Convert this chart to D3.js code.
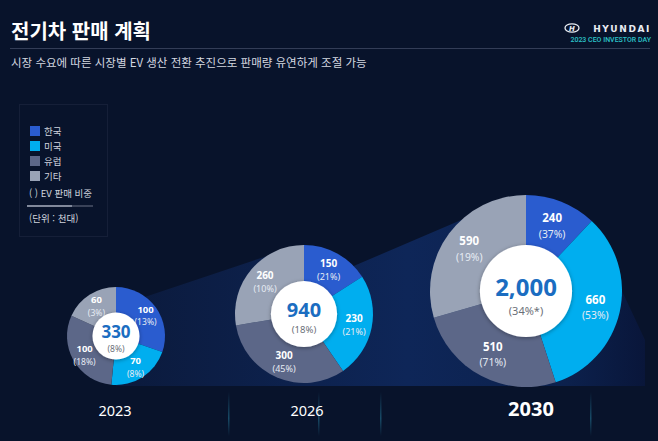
<!DOCTYPE html>
<html lang="ko">
<head>
<meta charset="UTF-8">
<title>전기차 판매 계획</title>
<style>
    body { margin: 0; background: #08122a; }
    svg { display: block; }
    .kr { font-family: "Noto Sans CJK KR", "Noto Sans", sans-serif; }
    .num { font-family: "Noto Sans", "DejaVu Sans", sans-serif; }
</style>
</head>
<body>
<div id="chart"></div>
<script src="https://d3js.org/d3.v7.min.js"></script>
<script>
"use strict";

// data
var regions = ["한국", "미국", "유럽", "기타"];
var years = ["2023", "2026", "2030"];
var sales2023 = [100, 70, 100, 60];
var sales2026 = [150, 230, 300, 260];
var sales2030 = [240, 660, 510, 590];
var share2023 = ["13%", "8%", "18%", "3%"];
var share2026 = ["21%", "21%", "45%", "10%"];
var share2030 = ["37%", "53%", "71%", "19%"];
var totals = ["330", "940", "2,000"];
var totalShare = ["8%", "18%", "34%*"];

var sales = [sales2023, sales2026, sales2030];
var shares = [share2023, share2026, share2030];

// layout (positions / sizes only)
var W = 658, H = 441;
var pies = [
    { cx: 116, cy: 336, r: 49, valSize: 9.5, totSize: 17, subSize: 8.5, yearDx: -1 },
    { cx: 304, cy: 314, r: 69, valSize: 10, totSize: 20, subSize: 9.5, yearDx: 3 },
    { cx: 526, cy: 291, r: 96, valSize: 11.5, totSize: 24, subSize: 11, yearDx: 5 }
];
var colors = d3.scaleOrdinal().domain(regions).range(["#2a5ccf", "#00aeef", "#5c6788", "#99a3b6"]);

var svg = d3.select("#chart").append("svg")
    .attr("width", W).attr("height", H);

var defs = svg.append("defs");
var bandGrad = defs.append("linearGradient").attr("id", "band").attr("x1", 0).attr("x2", 1).attr("y1", 0).attr("y2", 0);
bandGrad.append("stop").attr("offset", "0%").attr("stop-color", "#0b1a3c");
bandGrad.append("stop").attr("offset", "55%").attr("stop-color", "#0e2658");
bandGrad.append("stop").attr("offset", "85%").attr("stop-color", "#0c214d");
bandGrad.append("stop").attr("offset", "100%").attr("stop-color", "#09163a");

var shadow = defs.append("filter").attr("id", "shadow").attr("x", "-30%").attr("y", "-30%").attr("width", "160%").attr("height", "160%");
shadow.append("feDropShadow").attr("dx", 0).attr("dy", 1).attr("stdDeviation", 2).attr("flood-color", "#000").attr("flood-opacity", 0.35);

var streakGrad = defs.append("linearGradient").attr("id", "streak").attr("x1", 0).attr("x2", 0).attr("y1", 0).attr("y2", 1);
streakGrad.append("stop").attr("offset", "0%").attr("stop-color", "#2a8fb0").attr("stop-opacity", 0);
streakGrad.append("stop").attr("offset", "60%").attr("stop-color", "#2a8fb0").attr("stop-opacity", 0.45);
streakGrad.append("stop").attr("offset", "100%").attr("stop-color", "#2a8fb0").attr("stop-opacity", 0);

// background
svg.append("rect").attr("width", W).attr("height", H).attr("fill", "#08132b");

// funnel band connecting the pies
function onCircle(p, deg) {
    var a = deg * Math.PI / 180;
    return [p.cx + p.r * Math.sin(a), p.cy - p.r * Math.cos(a)];
}
var bandPts = [
    onCircle(pies[0], 37),
    onCircle(pies[1], -33),
    onCircle(pies[1], 46),
    onCircle(pies[2], -42),
    onCircle(pies[2], 0),
    onCircle(pies[2], 90),
    [645, 340],
    [645, 386],
    [pies[0].cx, 386]
];
svg.append("path")
    .attr("d", d3.line()(bandPts) + "Z")
    .attr("fill", "url(#band)");

// faint floor streaks
var streaks = [228, 318, 380, 590];
svg.selectAll(".streak").data(streaks).enter().append("rect")
    .attr("x", function (d) { return d; })
    .attr("y", 392).attr("width", 1.5).attr("height", 44)
    .attr("fill", "url(#streak)");

// header
svg.append("text").attr("class", "kr")
    .attr("x", 11).attr("y", 39)
    .attr("font-size", 20).attr("font-weight", 700).attr("fill", "#ffffff")
    .text("전기차 판매 계획");
svg.append("line")
    .attr("x1", 10).attr("x2", 650).attr("y1", 48.5).attr("y2", 48.5)
    .attr("stroke", "#333d57").attr("stroke-width", 1);
svg.append("text").attr("class", "kr")
    .attr("x", 11).attr("y", 67)
    .attr("font-size", 11.5).attr("fill", "#d4d8e0")
    .text("시장 수요에 따른 시장별 EV 생산 전환 추진으로 판매량 유연하게 조절 가능");

// hyundai mark
var logo = svg.append("g").attr("transform", "translate(572,28)");
logo.append("ellipse").attr("rx", 7).attr("ry", 4.2).attr("fill", "none").attr("stroke", "#e8ecf2").attr("stroke-width", 1.3);
logo.append("text").attr("x", 0).attr("y", 2.5).attr("text-anchor", "middle")
    .attr("font-family", "DejaVu Sans").attr("font-size", 7).attr("font-weight", 700)
    .attr("font-style", "italic").attr("fill", "#e8ecf2").text("H");
svg.append("text")
    .attr("x", 651).attr("y", 31.5).attr("text-anchor", "end")
    .attr("font-family", "DejaVu Sans").attr("font-size", 9).attr("font-weight", 700)
    .attr("letter-spacing", 1.6).attr("fill", "#e8ecf2")
    .text("HYUNDAI");
svg.append("text")
    .attr("x", 651).attr("y", 42).attr("text-anchor", "end")
    .attr("font-family", "Roboto, sans-serif").attr("font-size", 7).attr("font-weight", 500)
    .attr("fill", "#2cc3c9")
    .text("2023 CEO INVESTOR DAY");

// legend
var legend = svg.append("g").attr("class", "kr");
legend.append("rect")
    .attr("x", 19.5).attr("y", 104.5).attr("width", 88).attr("height", 132)
    .attr("fill", "none").attr("stroke", "#151f38");
var rows = legend.selectAll(".row").data(regions).enter().append("g")
    .attr("transform", function (d, i) { return "translate(30," + (126 + i * 15) + ")"; });
rows.append("rect").attr("width", 10).attr("height", 10)
    .attr("fill", function (d) { return colors(d); });
rows.append("text").attr("x", 14).attr("y", 9)
    .attr("font-size", 9.5).attr("fill", "#cfd4de")
    .text(function (d) { return d; });
legend.append("text").attr("x", 29).attr("y", 197)
    .attr("font-size", 9.5).attr("fill", "#cfd4de")
    .text("( ) EV 판매 비중");
legend.append("line").attr("x1", 27).attr("x2", 93).attr("y1", 206).attr("y2", 206)
    .attr("stroke", "#4a5368").attr("stroke-width", 1.5);
legend.append("line").attr("x1", 27).attr("x2", 72).attr("y1", 206).attr("y2", 206)
    .attr("stroke", "#9aa2b2").attr("stroke-width", 1.5);
legend.append("text").attr("x", 29).attr("y", 222)
    .attr("font-size", 9.5).attr("fill", "#cfd4de")
    .text("(단위 : 천대)");

// pies
var pie = d3.pie().sort(null).value(function (d) { return d.value; });

years.forEach(function (year, k) {
    var p = pies[k];
    var inner = p.r * 0.48;
    var arc = d3.arc().innerRadius(0).outerRadius(p.r);
    var labelArc = d3.arc().innerRadius(inner).outerRadius(p.r);
    var slices = pie(regions.map(function (name, i) {
        return { name: name, value: sales[k][i], share: shares[k][i] };
    }));

    var g = svg.append("g").attr("transform", "translate(" + p.cx + "," + p.cy + ")");
    g.selectAll("path").data(slices).enter().append("path")
        .attr("d", arc)
        .attr("fill", function (d) { return colors(d.data.name); });

    var lab = g.selectAll(".lab").data(slices).enter().append("g")
        .attr("class", "num")
        .attr("transform", function (d) { return "translate(" + labelArc.centroid(d) + ")"; });
    lab.append("text").attr("text-anchor", "middle").attr("y", -p.valSize * 0.25)
        .attr("font-size", p.valSize).attr("font-weight", 700).attr("fill", "#ffffff")
        .text(function (d) { return d.data.value; });
    lab.append("text").attr("text-anchor", "middle").attr("y", p.valSize * 1.1)
        .attr("font-size", p.valSize * 0.9).attr("fill", "#e6ebf3")
        .text(function (d) { return "(" + d.data.share + ")"; });

    g.append("circle").attr("r", inner).attr("fill", "#ffffff").attr("filter", "url(#shadow)");
    var totBase = p.totSize * 0.36 - 4;
    g.append("text").attr("class", "num").attr("text-anchor", "middle")
        .attr("y", totBase)
        .attr("font-size", p.totSize).attr("font-weight", 700).attr("fill", "#1b6dc1")
        .text(totals[k]);
    g.append("text").attr("class", "num").attr("text-anchor", "middle")
        .attr("y", totBase + p.totSize * 0.3 + p.subSize * 1.08)
        .attr("font-size", p.subSize).attr("fill", "#6b6f78")
        .text("(" + totalShare[k] + ")");

    svg.append("text").attr("class", "num")
        .attr("x", p.cx + p.yearDx).attr("y", 416).attr("text-anchor", "middle")
        .attr("font-size", k === 2 ? 20 : 14.5).attr("font-weight", k === 2 ? 700 : 400)
        .attr("fill", "#ffffff")
        .text(year);
});
</script>
</body>
</html>
